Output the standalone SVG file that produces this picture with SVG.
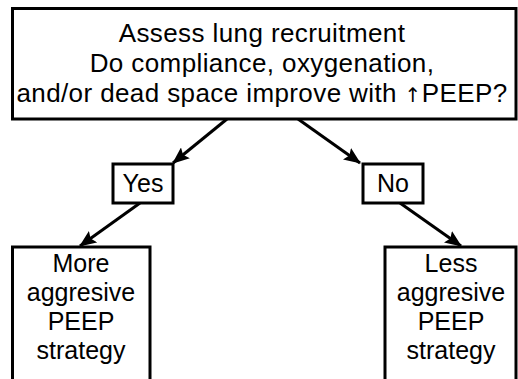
<svg xmlns="http://www.w3.org/2000/svg" width="518" height="379" viewBox="0 0 518 379">
<style>
.box{fill:#fff;stroke:#000;stroke-width:3}
.t{font-family:"Liberation Sans",Arial,sans-serif;font-size:25px;fill:#000;text-anchor:middle}
.h{font-size:26px;letter-spacing:0.4px}
.ar{font-family:"DejaVu Sans",sans-serif;font-size:20px}
.c{stroke:#000;stroke-width:3;fill:none;marker-end:url(#ah)}
</style>
<defs>
<marker id="ah" markerUnits="userSpaceOnUse" markerWidth="18" markerHeight="14" refX="16" refY="7" orient="auto">
<path d="M0,0 L17,7 L0,14 L3,7 z" fill="#000"/>
</marker>
</defs>
<rect width="518" height="379" fill="#fff"/>
<g id="connectors">
<line class="c" x1="227" y1="119" x2="173" y2="163"/>
<line class="c" x1="298" y1="119" x2="360" y2="163"/>
<line class="c" x1="140" y1="203" x2="80" y2="246"/>
<line class="c" x1="400" y1="203" x2="461" y2="246"/>
</g>
<g id="assess">
<rect class="box" x="12.5" y="8.5" width="503.5" height="110.5"/>
<text class="t h" x="262" y="42">Assess lung recruitment</text>
<text class="t h" x="262" y="72">Do compliance, oxygenation,</text>
<text class="t h" x="262" y="102">and/or dead space improve with <tspan class="ar">↑</tspan>PEEP?</text>
</g>
<g id="yes">
<rect class="box" x="113" y="164" width="60" height="39"/>
<text class="t" x="143" y="192">Yes</text>
</g>
<g id="no">
<rect class="box" x="363" y="164" width="60" height="39"/>
<text class="t" x="393" y="192">No</text>
</g>
<g id="more">
<rect class="box" x="12.5" y="247" width="137.5" height="140"/>
<text class="t" x="81" y="272">More</text>
<text class="t" x="81" y="301">aggresive</text>
<text class="t" x="81" y="330">PEEP</text>
<text class="t" x="81" y="359">strategy</text>
</g>
<g id="less">
<rect class="box" x="385" y="247" width="131" height="140"/>
<text class="t" x="451" y="272">Less</text>
<text class="t" x="451" y="301">aggresive</text>
<text class="t" x="451" y="330">PEEP</text>
<text class="t" x="451" y="359">strategy</text>
</g>
</svg>
